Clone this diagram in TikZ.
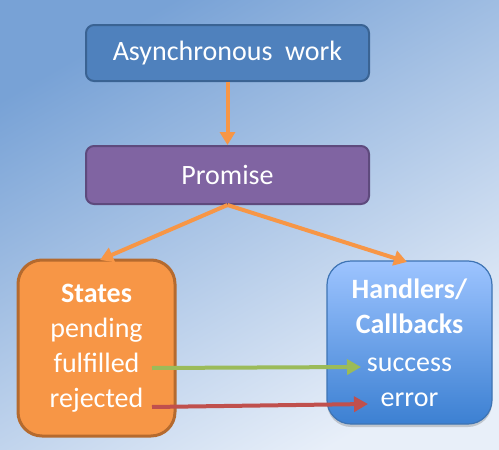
\documentclass[tikz,border=0pt]{standalone}
\usepackage{fontspec}
\setmainfont{Carlito}
\usetikzlibrary{arrows.meta,shadows}
\definecolor{bgtop}{HTML}{78A2D6}
\definecolor{bgmid}{HTML}{93B6E3}
\definecolor{bgbot}{HTML}{E8EFF9}
\definecolor{asyncfill}{HTML}{4F81BD}
\definecolor{asyncline}{HTML}{3A6393}
\definecolor{promfill}{HTML}{8064A2}
\definecolor{promline}{HTML}{5E4A7D}
\definecolor{orangefill}{HTML}{F79646}
\definecolor{orangeline}{HTML}{B56A2E}
\definecolor{handtop}{HTML}{9DC4FF}
\definecolor{handbot}{HTML}{3C80D2}
\definecolor{handline}{HTML}{3E74B4}
\definecolor{greenarr}{HTML}{9BBB59}
\definecolor{redarr}{HTML}{C0504D}
\tikzset{
  txt/.style={text=white, font=\fontsize{28}{35}\selectfont, align=center, inner sep=0pt},
  flatbox/.style={txt, rounded corners=8pt, line width=2pt, minimum width=283pt},
  bigbox/.style={txt, rounded corners=24pt},
  softshadow/.style={drop shadow={shadow xshift=0pt, shadow yshift=-3pt, opacity=0.25, fill=black!70}},
  orangearrow/.style={draw=orangefill, line width=4pt, -{Triangle[length=13pt,width=15pt]}},
  flowarrow/.style={line width=4pt, -{Triangle[length=14pt,width=15pt]}}
}
\begin{document}
\begin{tikzpicture}[x=1pt,y=-1pt]
\shade[shading=axis, top color=bgtop, middle color=bgmid, bottom color=bgbot, shading angle=30] (0,0) rectangle (499,450);
\useasboundingbox (0,0) rectangle (499,450);

\node[flatbox, fill=asyncfill, draw=asyncline, minimum height=56pt] (async) at (227.5,53) {Asynchronous\ \ work};
\node[flatbox, fill=promfill, draw=promline, minimum height=58pt] (promise) at (227.5,175) {Promise};

\node[bigbox, fill=orangefill, draw=orangeline, line width=3pt, minimum width=157pt, minimum height=176pt] (states) at (96.5,348)
  {\textbf{States}\\pending\\fulfilled\\rejected};
\node[bigbox, softshadow, top color=handtop, bottom color=handbot, draw=handline, line width=1.2pt, minimum width=165pt, minimum height=163pt] (handlers) at (409.5,342.5)
  {\textbf{Handlers/}\\\textbf{Callbacks}\\[3pt]success\\error};

\draw[orangearrow] (async.south) -- (promise.north);
\coordinate (stTop) at (100,260);
\coordinate (hdTop) at (407,262);
\draw[orangearrow] (promise.south) -- (stTop);
\draw[orangearrow] (promise.south) -- (hdTop);

\coordinate (fulStart) at (152,368);
\coordinate (sucEnd) at (361,367);
\coordinate (rejStart) at (152,407);
\coordinate (errEnd) at (368,404);
\draw[flowarrow, draw=greenarr] (fulStart) -- (sucEnd);
\draw[flowarrow, draw=redarr] (rejStart) -- (errEnd);
\end{tikzpicture}
\end{document}
